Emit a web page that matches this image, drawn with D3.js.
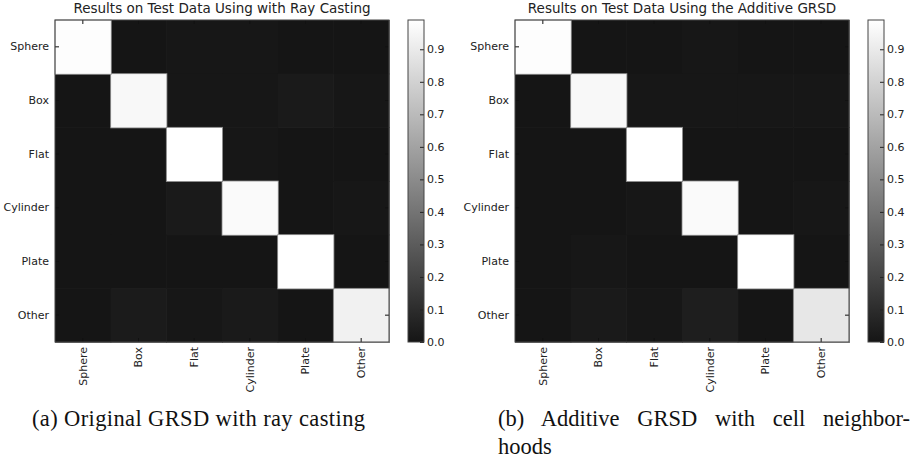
<!DOCTYPE html>
<html>
<head>
<meta charset="utf-8">
<script src="https://cdn.jsdelivr.net/npm/d3@7"></script>
<style>
  body { margin: 0; background: #fff; }
  svg text { font-family: "DejaVu Sans", sans-serif; fill: #222; }
  svg text.caption { font-family: "Liberation Serif", "DejaVu Serif", serif; fill: #111; }
</style>
</head>
<body>
<div class="fig"></div>
<script>
var classes = ["Sphere", "Box", "Flat", "Cylinder", "Plate", "Other"];

// rows = true class, columns = predicted class
var rayCasting = [
  [0.98, 0.00, 0.01, 0.01, 0.00, 0.00],
  [0.00, 0.96, 0.01, 0.01, 0.02, 0.01],
  [0.00, 0.00, 0.99, 0.01, 0.00, 0.00],
  [0.00, 0.00, 0.02, 0.97, 0.00, 0.01],
  [0.00, 0.00, 0.00, 0.00, 0.99, 0.00],
  [0.00, 0.025, 0.01, 0.02, 0.00, 0.93]
];

var additive = [
  [0.98, 0.00, 0.00, 0.01, 0.00, 0.00],
  [0.00, 0.96, 0.01, 0.01, 0.01, 0.01],
  [0.00, 0.00, 0.99, 0.00, 0.00, 0.00],
  [0.00, 0.00, 0.01, 0.97, 0.00, 0.01],
  [0.00, 0.01, 0.00, 0.00, 0.99, 0.00],
  [0.00, 0.02, 0.01, 0.04, 0.00, 0.89]
];

var colorTicks = [0.0, 0.1, 0.2, 0.3, 0.4, 0.5, 0.6, 0.7, 0.8, 0.9];
var titles = ["Results on Test Data Using with Ray Casting", "Results on Test Data Using the Additive GRSD"];

var W = 917, H = 461;
var svg = d3.select(".fig").append("svg").attr("width", W).attr("height", H);

var top0 = 20, mh = 322, mw = 334;
var color = d3.scaleLinear().domain([0, 0.99]).range(["#151515", "#ffffff"]).clamp(true);

var defs = svg.append("defs");
var grad = defs.append("linearGradient").attr("id", "cbar")
  .attr("x1", 0).attr("y1", 1).attr("x2", 0).attr("y2", 0);
d3.range(0, 1.0001, 0.1).forEach(function(t) {
  grad.append("stop").attr("offset", t).attr("stop-color", color(t * 0.99));
});

var drawPanel = function(x0, data, title) {
  var g = svg.append("g").attr("transform", "translate(" + x0 + "," + top0 + ")");
  var x = d3.scaleBand().domain(classes).range([0, mw]);
  var y = d3.scaleBand().domain(classes).range([0, mh]);

  var cells = [];
  data.forEach(function(row, i) {
    row.forEach(function(v, j) { cells.push({r: classes[i], c: classes[j], v: v}); });
  });

  // dark cells first, light ones on top so their grey edge shows
  cells.sort(function(a, b) { return a.v - b.v; });
  g.selectAll("rect.cell").data(cells).enter().append("rect")
    .attr("class", "cell")
    .attr("x", function(d) { return x(d.c); })
    .attr("y", function(d) { return y(d.r); })
    .attr("width", x.bandwidth() + 0.6)
    .attr("height", y.bandwidth() + 0.6)
    .attr("fill", function(d) { return color(d.v); })
    .attr("stroke", function(d) { return d.v > 0.5 ? "#888" : "none"; })
    .attr("stroke-width", 0.8);

  // inward ticks on all four sides (classic style)
  var tl = 4;
  var ly = g.append("g").call(d3.axisLeft(y).tickSize(-tl).tickPadding(6));
  ly.select(".domain").remove();
  ly.selectAll("text").attr("font-size", 11).attr("fill", "#222");
  g.append("g").attr("transform", "translate(" + mw + ",0)")
    .call(d3.axisRight(y).tickSize(-tl).tickFormat(""))
    .call(function(a) { a.select(".domain").remove(); });
  g.append("g").call(d3.axisTop(x).tickSize(-tl).tickFormat(""))
    .call(function(a) { a.select(".domain").remove(); });
  var bx = g.append("g").attr("transform", "translate(0," + mh + ")")
    .call(d3.axisBottom(x).tickSize(-tl).tickPadding(6));
  bx.select(".domain").remove();
  bx.selectAll("text")
    .attr("font-size", 11).attr("fill", "#222")
    .attr("transform", "rotate(-90)")
    .attr("text-anchor", "end")
    .attr("x", -5).attr("y", 0).attr("dy", "0.35em");
  g.selectAll(".tick line").attr("stroke", "#111");

  g.append("rect").attr("width", mw).attr("height", mh)
    .attr("fill", "none").attr("stroke", "#444").attr("stroke-width", 1);

  g.append("text").attr("x", mw / 2).attr("y", -7)
    .attr("text-anchor", "middle").attr("font-size", 13.5).attr("fill", "#222")
    .text(title);

  // colorbar
  var cb = g.append("g").attr("transform", "translate(" + (mw + 19) + ",0)");
  var cw = 16;
  var cy = d3.scaleLinear().domain([0, 0.99]).range([mh, 0]);
  cb.append("rect").attr("width", cw).attr("height", mh).attr("fill", "url(#cbar)");
  var ca = cb.append("g").attr("transform", "translate(" + cw + ",0)")
    .call(d3.axisRight(cy).tickValues(colorTicks).tickFormat(d3.format(".1f")).tickSize(-4).tickPadding(3));
  ca.select(".domain").remove();
  ca.selectAll("text").attr("font-size", 11).attr("fill", "#222");
  ca.selectAll(".tick line").attr("stroke", "#222");
  cb.append("rect").attr("width", cw).attr("height", mh)
    .attr("fill", "none").attr("stroke", "#444").attr("stroke-width", 1);
};

drawPanel(55, rayCasting, titles[0]);
drawPanel(515, additive, titles[1]);

svg.append("text").attr("class", "caption").attr("x", 32).attr("y", 426)
  .attr("font-size", 22.5).attr("textLength", 333).attr("lengthAdjust", "spacing")
  .text("(a) Original GRSD with ray casting");

// justified first line of caption (b): stretch the word gaps only
var capB = svg.append("text").attr("class", "caption").attr("x", 498).attr("y", 426)
  .attr("font-size", 22.5)
  .text("(b) Additive GRSD with cell neighbor-");
var natural = capB.node().getComputedTextLength();
capB.attr("word-spacing", Math.max(0, (412 - natural) / 5));
svg.append("text").attr("class", "caption").attr("x", 498).attr("y", 454)
  .attr("font-size", 22.5)
  .text("hoods");
</script>
</body>
</html>
